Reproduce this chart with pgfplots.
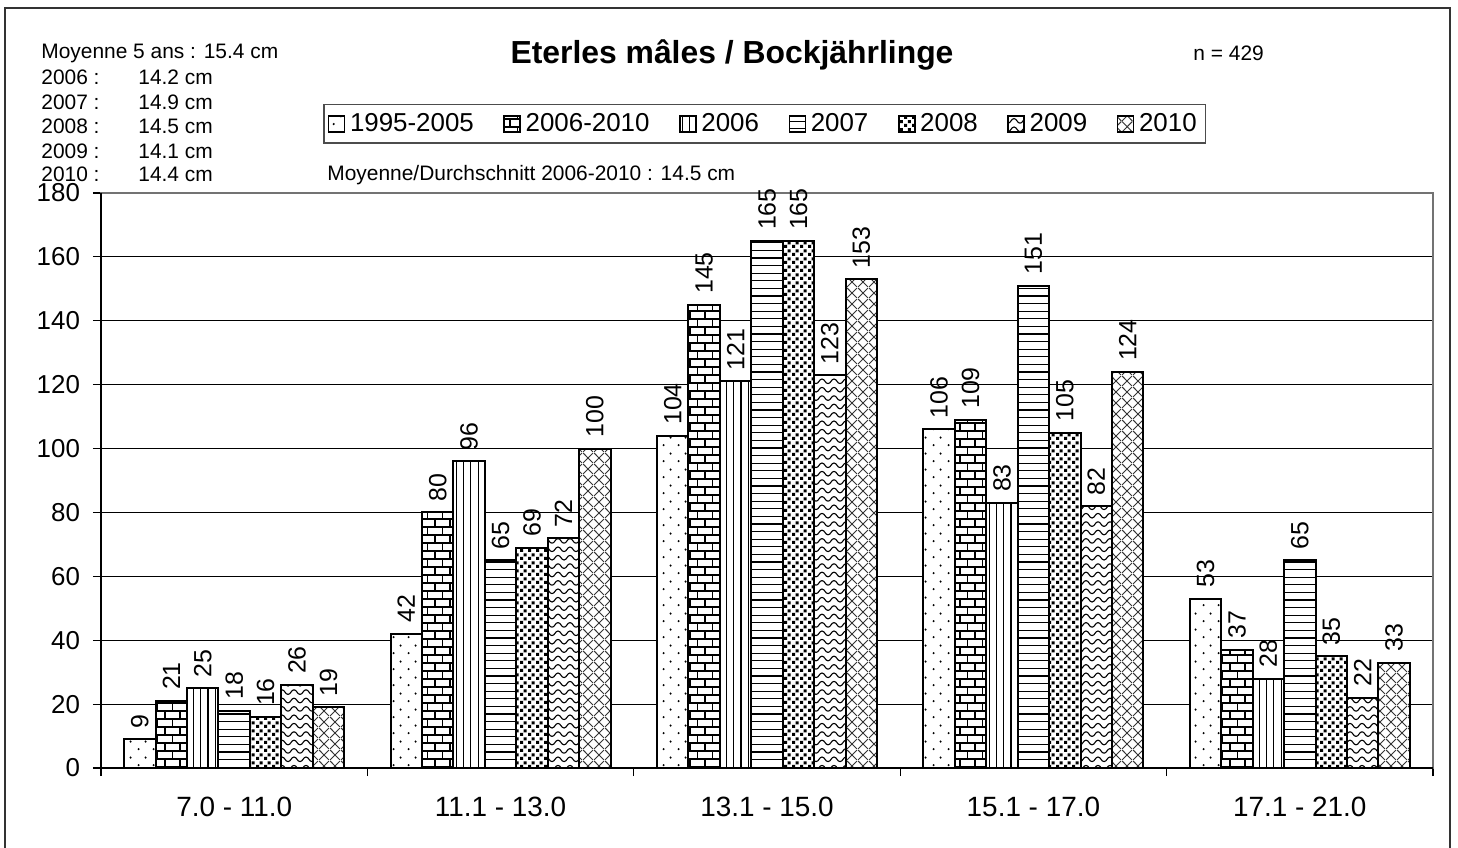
\documentclass[border=0pt]{standalone}
\usepackage{fontspec}
\setmainfont{Liberation Sans}
\usepackage{pgfplots}
\pgfplotsset{compat=1.18}
\usetikzlibrary{patterns}

% hatchings of the series (sizes in bp, 1 px of the reference = 0.5 bp)
\pgfdeclarepatternformonly{sdots}{\pgfqpoint{0bp}{0bp}}{\pgfqpoint{7.5bp}{8bp}}{\pgfqpoint{7.5bp}{8bp}}{%
  \pgfpathcircle{\pgfqpoint{1.9bp}{1.5bp}}{0.6bp}%
  \pgfpathcircle{\pgfqpoint{5.6bp}{5.5bp}}{0.6bp}%
  \pgfusepath{fill}}
\pgfdeclarepatternformonly{mybricks}{\pgfqpoint{-0.5bp}{-0.5bp}}{\pgfqpoint{8bp}{8.5bp}}{\pgfqpoint{7.5bp}{8bp}}{%
  \pgfsetlinewidth{0.6bp}%
  \pgfpathmoveto{\pgfqpoint{0bp}{0bp}}\pgfpathlineto{\pgfqpoint{7.5bp}{0bp}}%
  \pgfpathmoveto{\pgfqpoint{0bp}{4bp}}\pgfpathlineto{\pgfqpoint{7.5bp}{4bp}}%
  \pgfpathmoveto{\pgfqpoint{0bp}{0bp}}\pgfpathlineto{\pgfqpoint{0bp}{4bp}}%
  \pgfpathmoveto{\pgfqpoint{3.75bp}{4bp}}\pgfpathlineto{\pgfqpoint{3.75bp}{8bp}}%
  \pgfusepath{stroke}}
\pgfdeclarepatternformonly{vlines}{\pgfqpoint{0bp}{-0.5bp}}{\pgfqpoint{3.65bp}{4.5bp}}{\pgfqpoint{3.65bp}{4bp}}{%
  \pgfsetlinewidth{0.6bp}%
  \pgfpathmoveto{\pgfqpoint{1.8bp}{-0.5bp}}\pgfpathlineto{\pgfqpoint{1.8bp}{4.5bp}}%
  \pgfusepath{stroke}}
\pgfdeclarepatternformonly{hlines}{\pgfqpoint{-0.5bp}{0bp}}{\pgfqpoint{4.5bp}{3.8bp}}{\pgfqpoint{4bp}{3.8bp}}{%
  \pgfsetlinewidth{0.6bp}%
  \pgfpathmoveto{\pgfqpoint{-0.5bp}{1.9bp}}\pgfpathlineto{\pgfqpoint{4.5bp}{1.9bp}}%
  \pgfusepath{stroke}}
\pgfdeclarepatternformonly{ddots}{\pgfqpoint{0bp}{0bp}}{\pgfqpoint{4bp}{4bp}}{\pgfqpoint{4bp}{4bp}}{%
  \pgfpathrectangle{\pgfqpoint{0.1bp}{0.1bp}}{\pgfqpoint{1.6bp}{1.6bp}}%
  \pgfpathrectangle{\pgfqpoint{2.1bp}{2.1bp}}{\pgfqpoint{1.6bp}{1.6bp}}%
  \pgfusepath{fill}}
\pgfdeclarepatternformonly{waves}{\pgfqpoint{-0.5bp}{0bp}}{\pgfqpoint{6.5bp}{4.2bp}}{\pgfqpoint{6bp}{4.2bp}}{%
  \pgfsetlinewidth{0.55bp}%
  \pgfpathmoveto{\pgfqpoint{0bp}{0.7bp}}%
  \pgfpathcurveto{\pgfqpoint{1.4bp}{0.7bp}}{\pgfqpoint{1.6bp}{3bp}}{\pgfqpoint{3bp}{3bp}}%
  \pgfpathcurveto{\pgfqpoint{4.4bp}{3bp}}{\pgfqpoint{4.6bp}{0.7bp}}{\pgfqpoint{6bp}{0.7bp}}%
  \pgfusepath{stroke}}
\pgfdeclarepatternformonly{xhatch}{\pgfqpoint{0bp}{0bp}}{\pgfqpoint{5.5bp}{5.5bp}}{\pgfqpoint{5.5bp}{5.5bp}}{%
  \pgfsetlinewidth{0.5bp}%
  \pgfpathmoveto{\pgfqpoint{0bp}{0bp}}\pgfpathlineto{\pgfqpoint{5.5bp}{5.5bp}}%
  \pgfpathmoveto{\pgfqpoint{0bp}{5.5bp}}\pgfpathlineto{\pgfqpoint{5.5bp}{0bp}}%
  \pgfusepath{stroke}}

\newcommand{\smallfont}{\fontsize{10.5}{12}\selectfont}

\begin{document}
\begin{tikzpicture}[x=1bp,y=1bp]
\useasboundingbox (-50.5,-39.5) rectangle (678.5,384);
\begin{axis}[
    scale only axis,
    width=666bp, height=287.5bp,
    xmin=-0.5, xmax=4.5,
    ymin=0, ymax=180,
    ytick={0,20,...,180},
    xtick={-0.5,0.5,...,4.5},
    xticklabels={},
    extra x ticks={0,1,2,3,4},
    extra x tick labels={7.0 - 11.0,11.1 - 13.0,13.1 - 15.0,15.1 - 17.0,17.1 - 21.0},
    extra x tick style={major tick length=0pt, tick label style={yshift=-11bp}},
    tick align=outside,
    tick pos=left,
    major tick length=4bp,
    tick style={black, line width=0.6bp},
    ymajorgrids,
    grid style={black, line width=0.5bp},
    axis line style={black!55, line width=0.75bp},
    x tick label style={font=\fontsize{14}{16}\selectfont},
    y tick label style={font=\fontsize{13}{15}\selectfont, xshift=-3bp},
    /pgf/number format/assume math mode=true,
    clip=false,
    ybar=0pt,
    bar width=0.118,
    every axis plot post/.append style={
        draw=black, line width=1bp, fill=white,
        legend image code/.code={
            \draw[##1, line width=0.8bp] (0bp,-4bp) rectangle (8bp,4bp);
        },
    },
    nodes near coords,
    nodes near coords style={rotate=90, anchor=west, black, inner xsep=5bp,
        font=\fontsize{12.5}{14}\selectfont},
    legend columns=-1,
    legend style={
        at={(axis description cs:0.1667,1.1548)}, anchor=north west,
        draw=black!70, line width=0.75bp,
        font=\fontsize{13}{15}\selectfont,
        inner sep=2bp,
        nodes={inner sep=2.3bp},
        /tikz/every even column/.append style={column sep=12.5bp},
    },
]
\addplot[postaction={pattern=sdots}]    coordinates {(0,9) (1,42) (2,104) (3,106) (4,53)};
\addplot[postaction={pattern=mybricks}] coordinates {(0,21) (1,80) (2,145) (3,109) (4,37)};
\addplot[postaction={pattern=vlines}]   coordinates {(0,25) (1,96) (2,121) (3,83) (4,28)};
\addplot[postaction={pattern=hlines}]   coordinates {(0,18) (1,65) (2,165) (3,151) (4,65)};
\addplot[postaction={pattern=ddots}]    coordinates {(0,16) (1,69) (2,165) (3,105) (4,35)};
\addplot[postaction={pattern=waves}]    coordinates {(0,26) (1,72) (2,123) (3,82) (4,22)};
\addplot[postaction={pattern=xhatch, pattern color=black!80}] coordinates {(0,19) (1,100) (2,153) (3,124) (4,33)};
\legend{1995-2005,2006-2010,2006,2007,2008,2009,2010}
\draw[black, line width=1bp] (rel axis cs:0,1) -- (rel axis cs:0,0) -- (rel axis cs:1,0);
\end{axis}

% outer frame (open at the bottom, which lies below the picture)
\draw[black!80, line width=0.75bp] (-48,-45) -- (-48,380) -- (674.5,380) -- (674.5,-45);

% texts above the plot
\node[font=\bfseries\fontsize{16}{19}\selectfont] at (315.5,356.5) {Eterles mâles / Bockjährlinge};
\node[anchor=west, font=\smallfont, inner sep=0pt] at (546,357.5) {n = 429};
\node[anchor=west, font=\smallfont, inner sep=0pt] at (-30,357.5) {Moyenne 5 ans : 15.4 cm};
\foreach \yr/\val/\yy in {2006/14.2/345.5, 2007/14.9/333, 2008/14.5/321, 2009/14.1/308.5, 2010/14.4/297}{
  \node[anchor=west, font=\smallfont, inner sep=0pt] at (-30,\yy) {\yr\ :};
  \node[anchor=west, font=\smallfont, inner sep=0pt] at (18.5,\yy) {\val\ cm};
}
\node[anchor=west, font=\smallfont, inner sep=0pt] at (113,296.5) {Moyenne/Durchschnitt 2006-2010 : 14.5 cm};
\end{tikzpicture}
\end{document}
